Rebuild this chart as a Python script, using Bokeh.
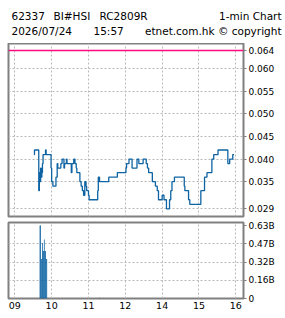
from bokeh.plotting import figure
from bokeh.models import FixedTicker, Range1d, Span, Label
from bokeh.layouts import column
from bokeh.embed import file_html
from bokeh.resources import INLINE

# ---- data ----
code = "62337"
underlying = "BI#HSI"
name = "RC2809R"
title_right = "1-min Chart"
date_str = "2026/07/24"
time_str = "15:57"
credit = "etnet.com.hk \u00a9 copyright"

price_times = ["09:31", "09:32", "09:39", "09:40", "09:41", "09:42", "09:43", "09:44",
               "09:45", "09:46", "09:50", "09:51", "09:59", "10:00", "10:02", "10:07",
               "10:09", "10:10", "10:15", "10:17", "10:20", "10:21", "10:24", "10:25",
               "10:32", "10:33", "10:36", "10:38", "10:40", "10:41", "10:46", "10:48",
               "10:50", "10:52", "10:54", "10:56", "10:57", "11:00", "11:01", "11:15",
               "11:16", "11:18", "11:33", "11:47", "13:01", "13:02", "13:06", "13:11",
               "13:19", "13:22", "13:29", "13:34", "13:36", "13:38", "13:44", "13:49",
               "13:52", "13:54", "14:00", "14:03", "14:07", "14:12", "14:14", "14:16",
               "14:20", "14:36", "14:37", "14:43", "14:45", "15:03", "15:09", "15:13",
               "15:21", "15:24", "15:31", "15:47", "15:50", "15:55", "15:57"]
price_vals = [0.041, 0.042, 0.033, 0.037, 0.035, 0.038, 0.036, 0.037,
              0.039, 0.041, 0.042, 0.041, 0.038, 0.035, 0.034, 0.036,
              0.039, 0.038, 0.039, 0.040, 0.038, 0.039, 0.040, 0.039,
              0.037, 0.039, 0.040, 0.039, 0.038, 0.037, 0.035, 0.034,
              0.033, 0.032, 0.035, 0.034, 0.033, 0.032, 0.031, 0.033,
              0.036, 0.035, 0.036, 0.037, 0.038, 0.039, 0.040, 0.038,
              0.040, 0.039, 0.040, 0.039, 0.038, 0.037, 0.035, 0.034,
              0.033, 0.031, 0.032, 0.031, 0.029, 0.031, 0.033, 0.035,
              0.036, 0.034, 0.033, 0.031, 0.030, 0.033, 0.036, 0.037,
              0.040, 0.041, 0.042, 0.039, 0.040, 0.041, 0.041]

ref_level = 0.064

vol_times = ["09:41", "09:42", "09:43", "09:44", "09:45", "09:46", "09:47", "09:48",
             "09:49", "09:50", "09:51", "09:52", "11:18"]
vol_vals_b = [0.63, 0.63, 0.34, 0.34, 0.48, 0.41, 0.41, 0.51,
              0.41, 0.41, 0.34, 0.34, 0.006]
vol_max_b = 0.63

x_ticks_min = [0, 60, 120, 180, 240, 300, 360]
x_tick_labels = ["09", "10", "11", "12", "14", "15", "16"]
y_ticks = [0.029, 0.035, 0.040, 0.045, 0.050, 0.055, 0.060, 0.064]
y_tick_labels = ["0.029", "0.035", "0.040", "0.045", "0.050", "0.055", "0.060", "0.064"]
vol_tick_labels = ["0", "0.16B", "0.32B", "0.47B", "0.63B"]


def to_min(t):
    h, m = map(int, t.split(":"))
    return (h - 9) * 60 + m if h < 13 else (h - 10) * 60 + m


px = [to_min(t) for t in price_times]
vx = [to_min(t) for t in vol_times]
vy = [v * 1e9 for v in vol_vals_b]
vol_ticks = [vol_max_b * 1e9 * i / 4 for i in range(5)]

BLUE = "#0e64a3"
GRID = "#b8b8b8"
BORDER = "#808080"
FONT = "DejaVu Sans"

xr = Range1d(-10.3, 372.5)

# ---- header strip (full-width frame, not aligned with the panels) ----
ph = figure(width=285, height=43, output_backend="svg", toolbar_location=None,
            x_range=Range1d(0, 285), y_range=Range1d(43, 0),
            x_axis_location=None, y_axis_location=None, frame_align=False,
            min_border_left=0, min_border_right=0, min_border_top=0, min_border_bottom=0)
ph.outline_line_color = None
ph.xgrid.visible = False
ph.ygrid.visible = False
for txt, x, y, align in [(code, 11, 15, "left"), (underlying, 53, 15, "left"),
                         (name, 99, 15, "left"), (title_right, 281, 15, "right"),
                         (date_str, 11, 30, "left"), (time_str, 93, 30, "left"),
                         (credit, 281, 30, "right")]:
    ph.add_layout(Label(x=x, y=y, text=txt, text_align=align, text_baseline="alphabetic",
                        text_font=FONT, text_font_size="10.5px", text_color="black"))


def style(p):
    p.outline_line_color = BORDER
    p.outline_line_width = 2
    p.background_fill_color = "white"
    p.border_fill_color = "white"
    p.min_border_left = 8
    p.min_border_right = 42
    for g in (p.xgrid, p.ygrid):
        g.grid_line_color = GRID
        g.grid_line_dash = "2 2"
        g.grid_line_width = 1
    ax = p.yaxis[0]
    ax.axis_line_color = BORDER
    ax.axis_line_width = 1
    ax.major_tick_line_color = BORDER
    ax.major_tick_out = 3
    ax.major_tick_in = 0
    ax.minor_tick_line_color = None
    ax.major_label_standoff = 2
    ax.major_label_text_font = FONT
    ax.major_label_text_font_size = "9px"
    ax.major_label_text_color = "black"


p1 = figure(width=285, height=176, output_backend="svg", toolbar_location=None,
            x_range=xr, y_range=Range1d(0.0273, 0.06555), y_axis_location="right",
            min_border_top=0, min_border_bottom=3)
style(p1)
p1.xaxis.visible = False
p1.xgrid.ticker = FixedTicker(ticks=x_ticks_min)
p1.yaxis.ticker = FixedTicker(ticks=y_ticks)
p1.yaxis.major_label_overrides = {t: l for t, l in zip(y_ticks, y_tick_labels)}
p1.ygrid.ticker = FixedTicker(ticks=y_ticks[:-1])
p1.add_layout(Span(location=ref_level, dimension="width", line_color="#ff0a7f", line_width=1.5))
p1.step(px, price_vals, mode="after", line_color=BLUE, line_width=1.3)

p2 = figure(width=285, height=99, output_backend="svg", toolbar_location=None,
            x_range=xr, y_range=Range1d(0, vol_max_b * 1e9 * 76 / 73), y_axis_location="right",
            min_border_top=3, min_border_bottom=20)
style(p2)
p2.xaxis.ticker = FixedTicker(ticks=x_ticks_min)
p2.xaxis.major_label_overrides = {t: l for t, l in zip(x_ticks_min, x_tick_labels)}
p2.xaxis.axis_line_color = None
p2.xaxis.major_tick_line_color = None
p2.xaxis.minor_tick_line_color = None
p2.xaxis.major_tick_out = 0
p2.xaxis.major_tick_in = 0
p2.xaxis.major_label_standoff = 3
p2.xaxis.major_label_text_font = FONT
p2.xaxis.major_label_text_font_size = "9.5px"
p2.xaxis.major_label_text_color = "black"
p2.yaxis.ticker = FixedTicker(ticks=vol_ticks)
p2.yaxis.major_label_overrides = {t: l for t, l in zip(vol_ticks, vol_tick_labels)}
p2.ygrid.ticker = FixedTicker(ticks=vol_ticks[1:-1])
p2.vbar(x=vx, top=vy, bottom=0, width=1.25, fill_color=BLUE, line_color=None)

layout = column(ph, p1, p2, spacing=0)
open("out.html", "w").write(file_html(layout, INLINE))
